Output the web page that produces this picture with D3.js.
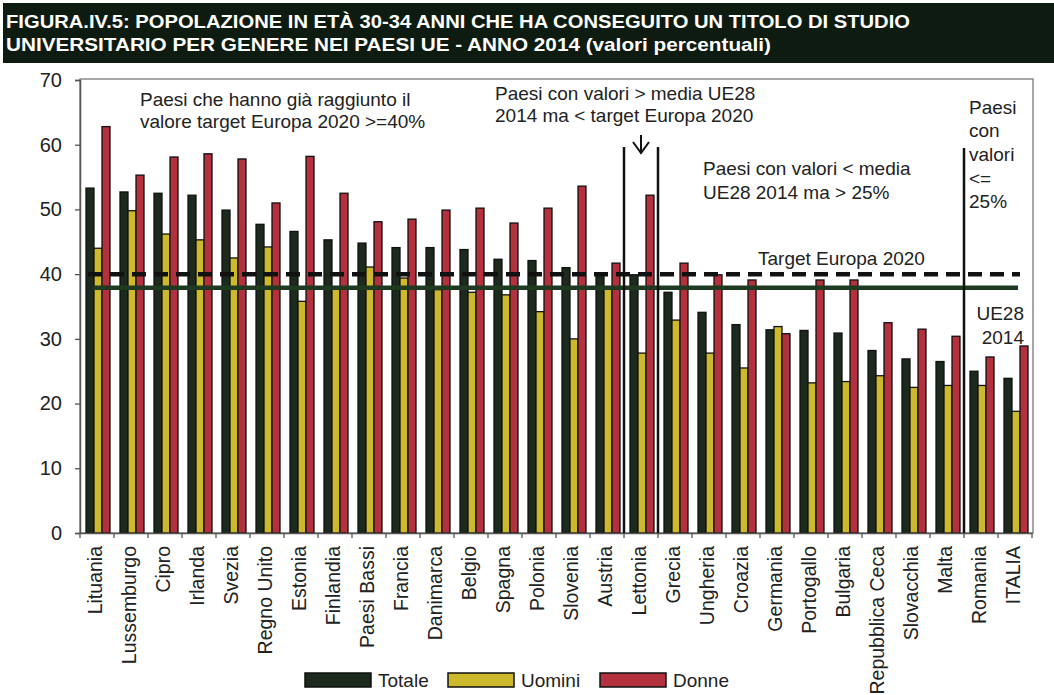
<!DOCTYPE html>
<html><head><meta charset="utf-8">
<script src="https://cdn.jsdelivr.net/npm/d3@7"></script>
<style>
html,body{margin:0;padding:0;background:#fff;}
svg{display:block;font-family:"Liberation Sans",Arial,sans-serif;}
</style></head>
<body>
<svg id="chart" width="1054" height="695"></svg>
<script>
const countries = ["Lituania","Lussemburgo","Cipro","Irlanda","Svezia","Regno Unito","Estonia","Finlandia","Paesi Bassi","Francia","Danimarca","Belgio","Spagna","Polonia","Slovenia","Austria","Lettonia","Grecia","Ungheria","Croazia","Germania","Portogallo","Bulgaria","Repubblica Ceca","Slovacchia","Malta","Romania","ITALIA"];
const totale = [53.3,52.7,52.5,52.2,49.9,47.7,46.6,45.3,44.8,44.1,44.1,43.8,42.3,42.1,41.0,40.0,39.9,37.2,34.1,32.2,31.4,31.3,30.9,28.2,26.9,26.5,25.0,23.9];
const uomini = [44.0,49.8,46.2,45.3,42.5,44.2,35.8,38.0,41.1,39.4,37.6,37.2,36.8,34.2,30.0,37.8,27.8,32.9,27.8,25.5,31.9,23.2,23.4,24.3,22.5,22.8,22.8,18.8];
const donne = [62.8,55.3,58.1,58.6,57.8,51.0,58.2,52.5,48.1,48.5,49.9,50.2,47.9,50.2,53.6,41.7,52.2,41.7,39.9,39.1,30.8,39.1,39.1,32.5,31.5,30.4,27.2,28.9];
const seriesNames = ["Totale","Uomini","Donne"];
const seriesColors = ["#1b2a1d","#cdb92c","#b3303d"];
const yTicks = [0,10,20,30,40,50,60,70];
const mediaUE28 = 37.9;
const targetEU2020 = 40;
const titleLines = ["FIGURA.IV.5: POPOLAZIONE IN ETÀ 30-34 ANNI CHE HA CONSEGUITO UN TITOLO DI STUDIO","UNIVERSITARIO PER GENERE NEI PAESI UE - ANNO 2014 (valori percentuali)"];

const svg = d3.select("#chart");
const L = 80, R = 1032, T = 80, B = 533;
const y = d3.scaleLinear().domain([0,70]).range([B,T]);
const x0 = d3.scaleBand().domain(countries).range([L,R]);
const x1 = d3.scaleBand().domain(seriesNames).range([6,30]);
const color = d3.scaleOrdinal().domain(seriesNames).range(seriesColors);
const seriesData = [totale, uomini, donne];

// Title bar
svg.append("rect").attr("x",3).attr("y",3).attr("width",1051).attr("height",60).attr("fill","#0e1b11");
const tLen = [904, 765];
titleLines.forEach((t,i)=>{
  svg.append("text").attr("x",6).attr("y",28+i*23)
    .attr("fill","#fff").attr("font-family","'Liberation Sans Narrow','Arial Narrow',sans-serif")
    .attr("font-weight","bold").attr("font-size",19)
    .attr("textLength",tLen[i]).attr("lengthAdjust","spacingAndGlyphs").text(t);
});

// Plot frame
svg.append("rect").attr("x",L).attr("y",T-1).attr("width",R-L+1).attr("height",B-T+1)
  .attr("fill","none").attr("stroke","#8a8a8a").attr("stroke-width",1.5);

// Bars
const groups = svg.append("g").selectAll("g").data(countries).join("g")
  .attr("transform",d=>`translate(${x0(d)},0)`);
groups.selectAll("rect").data((d,i)=>seriesNames.map((s,k)=>({s,v:seriesData[k][i]}))).join("rect")
  .attr("x",d=>x1(d.s)).attr("width",x1.bandwidth())
  .attr("y",d=>y(d.v)).attr("height",d=>B-y(d.v))
  .attr("fill",d=>color(d.s)).attr("stroke","#111").attr("stroke-width",1.3);

// Reference lines
svg.append("line").attr("x1",88).attr("x2",1020).attr("y1",y(targetEU2020)).attr("y2",y(targetEU2020))
  .attr("stroke","#111").attr("stroke-width",4.5).attr("stroke-dasharray","14,8");
svg.append("line").attr("x1",93).attr("x2",1018).attr("y1",y(mediaUE28)).attr("y2",y(mediaUE28))
  .attr("stroke","#1e3a21").attr("stroke-width",4.5);

// Y axis
const yAxis = svg.append("g").attr("transform",`translate(${L},0)`)
  .call(d3.axisLeft(y).tickValues(yTicks).tickSize(5).tickPadding(13));
yAxis.select(".domain").attr("stroke","#555").attr("stroke-width",1.5);
yAxis.selectAll(".tick line").attr("stroke","#555").attr("stroke-width",1.3);
yAxis.selectAll("text").attr("font-size",20).attr("fill","#222").attr("font-family","'Liberation Sans',Arial,sans-serif");

// X axis
const xAxis = svg.append("g").attr("transform",`translate(0,${B})`)
  .call(d3.axisBottom(x0).tickSize(0).tickPadding(0));
xAxis.select(".domain").attr("stroke","#555").attr("stroke-width",1.5);
xAxis.selectAll("text").attr("font-size",19.5).attr("fill","#222")
  .attr("font-family","'Liberation Sans',Arial,sans-serif")
  .attr("text-anchor","end").attr("dy",null)
  .attr("transform","translate(0,13) rotate(-90)").attr("dominant-baseline","middle");
const bounds = countries.map(c=>x0(c)).concat([R]);
svg.append("g").selectAll("line").data(bounds).join("line")
  .attr("x1",d=>d).attr("x2",d=>d).attr("y1",B).attr("y2",B+5)
  .attr("stroke","#555").attr("stroke-width",1.3);

// Group separators
const sepLines = [x0("Lettonia"), x0("Lettonia")+x0.bandwidth(), x0("Romania")];
const sepTop = [147,147,148];
sepLines.forEach((sx,i)=>{
  svg.append("line").attr("x1",sx).attr("x2",sx).attr("y1",sepTop[i]).attr("y2",B)
    .attr("stroke","#111").attr("stroke-width",2.5);
});
// Arrow
const ax = x0("Lettonia")+x0.bandwidth()/2;
svg.append("path").attr("d",`M${ax},135 L${ax},153 M${ax-8},142 L${ax},153 L${ax+8},142`)
  .attr("fill","none").attr("stroke","#111").attr("stroke-width",2);

// Annotations
const ann = svg.append("g").attr("font-size",19).attr("fill","#222").attr("font-family","'Liberation Sans',Arial,sans-serif");
function block(x,yc,lines,step,anchor){
  lines.forEach((s,i)=>{
    ann.append("text").attr("x",x).attr("y",yc+i*step).attr("dy","0.35em")
      .attr("text-anchor",anchor||"start").text(s);
  });
}
block(140,99,["Paesi che hanno già raggiunto il","valore target Europa 2020 >=40%"],22);
block(495,93,["Paesi con valori > media UE28","2014 ma < target Europa 2020"],22);
block(703,168,["Paesi con valori < media","UE28 2014 ma > 25%"],24);
block(969,107,["Paesi","con","valori","<=","25%"],23.7);
block(758,258,["Target Europa 2020"],0);
block(1024,313,["UE28","2014"],24,"end");

// Legend
const legX = [305,448,600];
const leg = svg.append("g");
seriesNames.forEach((s,i)=>{
  leg.append("rect").attr("x",legX[i]).attr("y",673).attr("width",66).attr("height",14)
    .attr("fill",color(s)).attr("stroke","#111").attr("stroke-width",1.5);
  leg.append("text").attr("x",legX[i]+73).attr("y",680).attr("dy","0.35em")
    .attr("font-size",19).attr("fill","#222").attr("font-family","'Liberation Sans',Arial,sans-serif").text(s);
});
</script>
</body></html>
